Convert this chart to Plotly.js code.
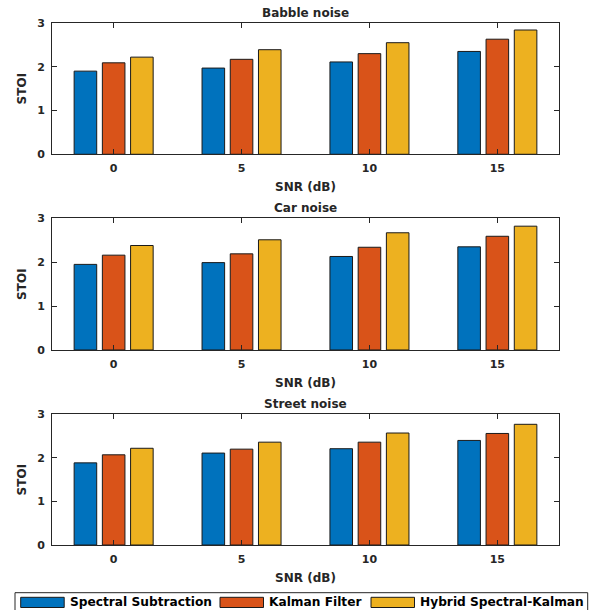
<!DOCTYPE html>
<html><head><meta charset="utf-8">
<script src="https://cdn.plot.ly/plotly-3.0.1.min.js"></script>
<style>html,body{margin:0;padding:0;background:#fff}#chart{width:592px;height:610px}</style>
</head><body><div id="chart"></div>
<script>
// ---- data ----
const snr = [0, 5, 10, 15];
const snrLabels = ['0', '5', '10', '15'];
const seriesNames = ['Spectral Subtraction', 'Kalman Filter', 'Hybrid Spectral-Kalman'];
const seriesColors = ['#0072BD', '#D95319', '#EDB120'];
const panelTitles = ['Babble noise', 'Car noise', 'Street noise'];
const yTickVals = [0, 1, 2, 3];

const babbleSpectral = [1.90, 1.97, 2.11, 2.35];
const babbleKalman   = [2.09, 2.17, 2.30, 2.63];
const babbleHybrid   = [2.22, 2.39, 2.55, 2.84];

const carSpectral = [1.95, 1.99, 2.13, 2.35];
const carKalman   = [2.16, 2.19, 2.34, 2.59];
const carHybrid   = [2.38, 2.51, 2.67, 2.82];

const streetSpectral = [1.885, 2.11, 2.21, 2.40];
const streetKalman   = [2.07, 2.20, 2.36, 2.56];
const streetHybrid   = [2.22, 2.36, 2.57, 2.77];

const panels = [
  [babbleSpectral, babbleKalman, babbleHybrid],
  [carSpectral, carKalman, carHybrid],
  [streetSpectral, streetKalman, streetHybrid]
];

// ---- layout constants ----
const W = 592, H = 610;
const M = {l: 52, r: 33, t: 23, b: 65};
const PW = W - M.l - M.r, PH = H - M.t - M.b;
const px2x = p => (p - M.l) / PW;
const px2y = p => (H - M.b - p) / PH;
const domains = [[0.7485, 1.0], [0.3736, 0.6259], [0.0, 0.2504]];

const textColor = '#262626';
const tickFont = {family: 'DejaVu Sans', size: 11, color: textColor, weight: 'bold'};
const labelFont = {family: 'DejaVu Sans', size: 12, color: textColor, weight: 'bold'};

const traces = [];
panels.forEach((series, pi) => {
  const sfx = pi === 0 ? '' : String(pi + 1);
  series.forEach((vals, si) => {
    traces.push({
      type: 'bar', x: snr, y: vals, name: seriesNames[si],
      xaxis: 'x' + sfx, yaxis: 'y' + sfx, showlegend: false,
      marker: {color: seriesColors[si], line: {color: '#1a1a1a', width: 1}},
      hoverinfo: 'x+y+name'
    });
  });
});

const layout = {
  width: W, height: H, margin: M,
  paper_bgcolor: '#fff', plot_bgcolor: '#fff',
  barmode: 'group', bargap: 0.338, bargroupgap: 0.2,
  showlegend: false,
  font: {family: 'DejaVu Sans', color: textColor},
  annotations: [], shapes: []
};

panels.forEach((series, pi) => {
  const sfx = pi === 0 ? '' : String(pi + 1);
  layout['xaxis' + sfx] = {
    anchor: 'y' + sfx, domain: [0, 1], range: [-2.41, 17.41],
    tickvals: snr, ticktext: snrLabels, tickfont: tickFont,
    ticks: 'inside', ticklen: 5, tickwidth: 1, tickcolor: textColor,
    showline: true, linecolor: textColor, linewidth: 1, mirror: 'allticks',
    showgrid: false, zeroline: false, ticklabelstandoff: 4,
    title: {text: 'SNR (dB)', font: labelFont, standoff: 8}
  };
  layout['yaxis' + sfx] = {
    anchor: 'x' + sfx, domain: domains[pi], range: [0, 3],
    tickvals: yTickVals, tickfont: tickFont,
    ticks: 'inside', ticklen: 5, tickwidth: 1, tickcolor: textColor,
    showline: true, linecolor: textColor, linewidth: 1, mirror: 'allticks',
    showgrid: false, zeroline: false, ticklabelstandoff: 4,
    title: {text: 'STOI', font: labelFont, standoff: 7}
  };
  layout.annotations.push({
    text: panelTitles[pi], xref: 'paper', yref: 'paper', x: 0.5, y: domains[pi][1],
    xanchor: 'center', yanchor: 'bottom', yshift: 1, showarrow: false,
    font: labelFont
  });
});

// ---- custom legend (MATLAB style, wide swatches) ----
const legBox = {x0: 15, x1: 587.7, y0: 592.7, y1: 614};
layout.shapes.push({
  type: 'rect', xref: 'paper', yref: 'paper',
  x0: px2x(legBox.x0), x1: px2x(legBox.x1), y0: px2y(legBox.y1), y1: px2y(legBox.y0),
  line: {color: textColor, width: 1}, fillcolor: 'rgba(255,255,255,1)'
});
const swatchX = [20.7, 220, 371];
const swatchW = 43.5;
const swY0 = 597.3, swY1 = 607.5;
seriesNames.forEach((nm, i) => {
  layout.shapes.push({
    type: 'rect', xref: 'paper', yref: 'paper',
    x0: px2x(swatchX[i]), x1: px2x(swatchX[i] + swatchW), y0: px2y(swY1), y1: px2y(swY0),
    line: {color: '#1a1a1a', width: 1}, fillcolor: seriesColors[i]
  });
  layout.annotations.push({
    text: nm, xref: 'paper', yref: 'paper',
    x: px2x(swatchX[i] + swatchW + 3.5), y: px2y((swY0 + swY1) / 2),
    xanchor: 'left', yanchor: 'middle', showarrow: false,
    font: {family: 'DejaVu Sans', size: 12.2, color: '#000', weight: 'bold'}
  });
});

Plotly.newPlot('chart', traces, layout, {displayModeBar: false, responsive: false});
</script>
</body></html>
